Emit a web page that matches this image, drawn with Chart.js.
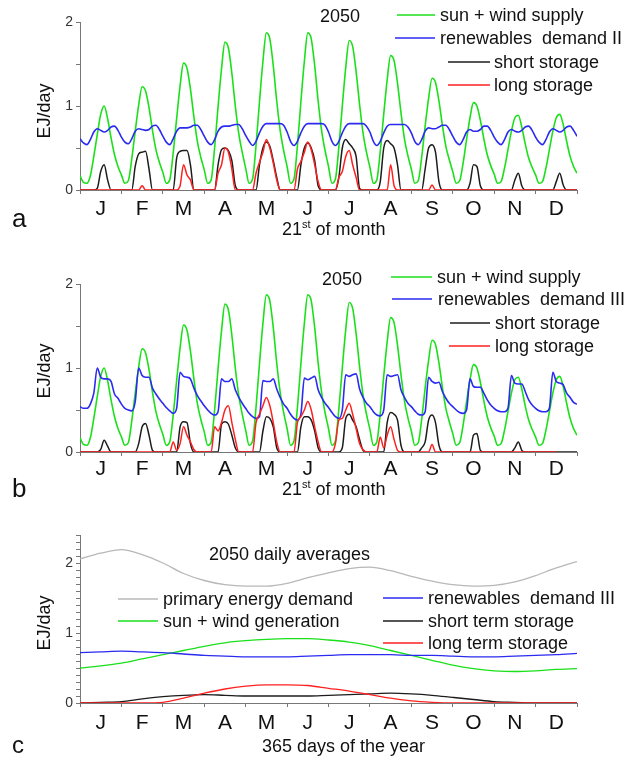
<!DOCTYPE html>
<html lang="en">
<head>
  <meta charset="UTF-8">
  <title>2050 sun + wind supply, demand and storage</title>
  <script src="https://cdn.jsdelivr.net/npm/chart.js"></script>
  <style>
    body { margin: 0; background: #fff; }
    #wrap { position: relative; width: 626px; height: 759px; }
    canvas { position: absolute; left: 0; }
  </style>
</head>
<body>
<div id="wrap">
  <canvas id="chartA" width="626" height="258" style="top:0"></canvas>
  <canvas id="chartB" width="626" height="258" style="top:258px"></canvas>
  <canvas id="chartC" width="626" height="243" style="top:516px"></canvas>
</div>

<script>
  const months = ['J', 'F', 'M', 'A', 'M', 'J', 'J', 'A', 'S', 'O', 'N', 'D'];

  // panels a and b: the 21st of each month, one value every 2 hours (0h ... 22h), last value closes December
  const supply = [
    0.17,0.09,0.08,0.17,0.40,0.66,0.90,1.00,0.85,0.62,0.42,0.28, // J
    0.18,0.08,0.11,0.37,0.70,1.01,1.23,1.18,0.98,0.71,0.48,0.33, // F
    0.21,0.08,0.12,0.44,0.85,1.24,1.51,1.45,1.20,0.87,0.58,0.39, // M
    0.24,0.08,0.12,0.50,0.99,1.44,1.76,1.69,1.39,1.00,0.67,0.45, // A
    0.26,0.08,0.13,0.53,1.05,1.53,1.87,1.80,1.48,1.06,0.71,0.47, // M
    0.28,0.08,0.13,0.53,1.05,1.53,1.87,1.80,1.48,1.06,0.71,0.47, // J
    0.28,0.08,0.13,0.51,1.00,1.46,1.78,1.71,1.41,1.02,0.68,0.45, // J
    0.27,0.08,0.12,0.46,0.90,1.31,1.60,1.54,1.27,0.92,0.61,0.41, // A
    0.25,0.08,0.11,0.39,0.76,1.09,1.33,1.28,1.06,0.77,0.52,0.36, // S
    0.22,0.08,0.11,0.32,0.60,0.86,1.04,1.00,0.83,0.61,0.42,0.29, // O
    0.19,0.08,0.10,0.26,0.48,0.70,0.86,0.89,0.75,0.55,0.38,0.27, // N
    0.18,0.08,0.10,0.26,0.48,0.70,0.86,0.90,0.78,0.58,0.40,0.28, // D
    0.20
  ];

  const demandII = [
    0.61,0.56,0.54,0.60,0.69,0.73,0.71,0.69,0.71,0.75,0.76,0.71,
    0.63,0.57,0.55,0.61,0.70,0.73,0.72,0.71,0.72,0.76,0.77,0.72,
    0.64,0.57,0.54,0.61,0.70,0.74,0.74,0.74,0.75,0.77,0.77,0.72,
    0.64,0.57,0.54,0.60,0.70,0.75,0.76,0.76,0.77,0.78,0.78,0.73,
    0.65,0.58,0.53,0.58,0.68,0.76,0.79,0.79,0.79,0.79,0.79,0.77,
    0.69,0.58,0.53,0.58,0.68,0.76,0.79,0.79,0.79,0.79,0.79,0.77,
    0.69,0.58,0.53,0.58,0.68,0.76,0.79,0.79,0.79,0.79,0.79,0.76,
    0.69,0.58,0.53,0.58,0.68,0.76,0.78,0.78,0.78,0.78,0.78,0.75,
    0.68,0.58,0.54,0.60,0.70,0.74,0.73,0.73,0.75,0.77,0.77,0.72,
    0.64,0.57,0.54,0.60,0.69,0.72,0.70,0.70,0.72,0.76,0.76,0.71,
    0.63,0.57,0.54,0.60,0.69,0.72,0.70,0.69,0.71,0.75,0.76,0.71,
    0.63,0.57,0.54,0.60,0.69,0.73,0.71,0.69,0.71,0.75,0.76,0.71,
    0.64
  ];

  const shortII = [
    0,0,0,0,0,0.02,0.22,0.30,0.12,0,0,0,
    0,0,0,0,0.28,0.43,0.45,0.46,0.25,0,0,0,
    0,0,0,0,0.38,0.46,0.47,0.47,0.30,0,0,0,
    0,0,0,0,0.30,0.48,0.50,0.47,0.35,0.05,0,0,
    0,0,0,0,0.30,0.50,0.57,0.52,0.35,0.15,0,0,
    0,0,0,0,0.30,0.50,0.56,0.50,0.35,0.05,0,0,
    0,0,0,0.15,0.50,0.60,0.55,0.50,0.40,0.02,0,0,
    0,0,0,0.10,0.50,0.59,0.55,0.50,0.30,0,0,0,
    0,0,0,0,0.25,0.50,0.54,0.45,0.10,0,0,0,
    0,0,0,0,0,0.08,0.30,0.28,0.05,0,0,0,
    0,0,0,0,0,0,0.12,0.20,0.05,0,0,0,
    0,0,0,0,0,0,0.10,0.20,0.06,0,0,0,
    0
  ];

  const longII = [
    0,0,0,0,0,0,0,0,0,0,0,0,
    0,0,0,0,0,0,0.05,0,0,0,0,0,
    0,0,0,0,0,0.05,0.30,0.18,0.12,0,0,0,
    0,0,0,0,0.20,0.30,0.50,0.45,0.25,0,0,0,
    0,0,0,0.20,0.33,0.45,0.60,0.50,0.32,0.12,0,0,
    0,0,0,0.25,0.34,0.45,0.57,0.48,0.30,0.10,0,0,
    0,0,0,0.15,0.22,0.40,0.47,0.30,0.15,0,0,0,
    0,0,0,0,0,0,0.30,0.05,0,0,0,0,
    0,0,0,0,0,0,0.06,0,0,0,0,0,
    0,0,0,0,0,0,0,0,0,0,0,0,
    0,0,0,0,0,0,0,0,0,0,0,0,
    0,0,0,0,0,0,0,0,0,0,0,0,
    0
  ];

  const demandIII = [
    0.54,0.52,0.52,0.57,0.70,1.00,0.89,0.87,0.87,0.84,0.69,0.64,
    0.57,0.52,0.50,0.49,0.60,1.00,0.91,0.89,0.89,0.76,0.69,0.63,
    0.58,0.53,0.49,0.46,0.52,0.95,0.90,0.89,0.87,0.76,0.67,0.61,
    0.55,0.50,0.46,0.44,0.48,0.87,0.84,0.84,0.87,0.74,0.65,0.58,
    0.52,0.46,0.42,0.40,0.42,0.85,0.84,0.84,0.87,0.75,0.65,0.57,
    0.52,0.45,0.40,0.38,0.45,0.88,0.86,0.88,0.90,0.74,0.65,0.58,
    0.53,0.47,0.42,0.40,0.50,0.92,0.90,0.92,0.93,0.75,0.65,0.58,
    0.54,0.48,0.44,0.43,0.50,0.92,0.90,0.91,0.92,0.74,0.65,0.58,
    0.54,0.49,0.45,0.44,0.48,0.89,0.84,0.82,0.83,0.72,0.64,0.58,
    0.54,0.50,0.47,0.46,0.50,0.87,0.78,0.77,0.77,0.70,0.62,0.56,
    0.52,0.49,0.48,0.48,0.52,0.91,0.82,0.81,0.81,0.72,0.62,0.56,
    0.52,0.49,0.48,0.48,0.52,0.95,0.84,0.82,0.80,0.70,0.65,0.59,
    0.57
  ];

  const shortIII = [
    0,0,0,0,0,0,0.03,0.14,0.07,0,0,0,
    0,0,0,0,0,0.10,0.30,0.34,0.20,0.02,0,0,
    0,0,0,0,0,0.30,0.36,0.35,0.10,0,0,0,
    0,0,0,0,0,0.33,0.36,0.33,0.20,0.05,0,0,
    0,0,0,0,0,0.25,0.42,0.40,0.30,0.05,0,0,
    0,0,0,0,0.30,0.42,0.42,0.38,0.25,0.05,0,0,
    0,0,0,0,0.05,0.40,0.45,0.38,0.30,0.15,0.02,0,
    0,0,0,0,0,0.35,0.47,0.45,0.38,0.08,0,0,
    0,0,0,0.05,0.12,0.38,0.44,0.35,0.08,0,0,0,
    0,0,0,0,0,0,0.20,0.22,0.02,0,0,0,
    0,0,0,0,0,0,0.05,0.12,0.02,0,0,0,
    0,0,0,0,0,0,0,0,0,0,0,0,
    0
  ];

  const longIII = [
    0,0,0,0,0,0,0,0,0,0,0,0,
    0,0,0,0,0,0,0,0,0,0,0,0,
    0,0,0,0.12,0.02,0.10,0.30,0.20,0.12,0.03,0,0,
    0,0,0,0.30,0.25,0.35,0.50,0.55,0.35,0.15,0,0,
    0,0,0,0.35,0.45,0.55,0.65,0.55,0.35,0.12,0,0,
    0,0,0,0.35,0.42,0.50,0.60,0.50,0.30,0.12,0,0,
    0,0,0.10,0.38,0.40,0.50,0.58,0.45,0.28,0.10,0.03,0,
    0,0,0,0.18,0.05,0.20,0.30,0.15,0.02,0,0,0,
    0,0,0,0,0,0,0.09,0,0,0,0,0,
    0,0,0,0,0,0,0,0,0,0,0,0,
    0,0,0,0,0,0,0,0,0,0,0,0,
    0,0,0,0,0,0,0,null,null,null,null,null,
    null
  ];

  // panel c: daily averages, one value every half month
  const primaryC = [2.06,2.14,2.19,2.12,2.00,1.85,1.75,1.69,1.67,1.67,1.71,1.79,1.86,1.92,1.94,1.89,1.81,1.74,1.69,1.67,1.68,1.73,1.82,1.93,2.02];
  const supplyC  = [0.50,0.53,0.57,0.63,0.69,0.75,0.81,0.86,0.89,0.91,0.92,0.92,0.90,0.87,0.82,0.75,0.68,0.61,0.54,0.49,0.46,0.45,0.46,0.48,0.49];
  const demandC  = [0.72,0.73,0.74,0.73,0.72,0.70,0.68,0.67,0.66,0.66,0.66,0.67,0.68,0.69,0.69,0.69,0.68,0.68,0.67,0.66,0.66,0.67,0.68,0.69,0.71];
  const shortC   = [0.00,0.01,0.02,0.06,0.09,0.11,0.12,0.11,0.10,0.10,0.10,0.10,0.11,0.12,0.13,0.14,0.13,0.11,0.08,0.05,0.02,0.01,0.00,0.00,0.00];
  const longC    = [0,0,0,0,0.01,0.07,0.14,0.20,0.24,0.26,0.26,0.25,0.21,0.17,0.12,0.07,0.03,0.01,0,0,0,0,0,0,0];

  const FONT = '"Liberation Sans", Arial, sans-serif';
  const GREEN = '#1ae01a', BLUE = '#2a2af0', BLACK = '#1c1c1c', RED = '#ff2020', GREY = '#b8b8b8';
  const AXIS = '#777';

  Chart.defaults.font.family = FONT;

  // legend keys, panel letters and axis titles drawn straight on the canvas
  const annotations = {
    id: 'annotations',
    afterDraw(chart, args, o) {
      const ctx = chart.ctx;
      ctx.save();
      ctx.fillStyle = '#111';
      ctx.textAlign = 'left';
      (o.keys || []).forEach(k => {
        ctx.strokeStyle = k.color;
        ctx.lineWidth = 1.5;
        ctx.beginPath();
        ctx.moveTo(k.x1, k.y);
        ctx.lineTo(k.x2, k.y);
        ctx.stroke();
        ctx.font = '18px ' + FONT;
        ctx.textBaseline = 'middle';
        ctx.fillText(k.label, k.tx, k.y + 1);
      });
      (o.texts || []).forEach(t => {
        ctx.font = t.size + 'px ' + FONT;
        ctx.textBaseline = t.baseline || 'middle';
        if (t.rotate) {
          ctx.save();
          ctx.translate(t.x, t.y);
          ctx.rotate(-Math.PI / 2);
          ctx.textAlign = 'center';
          ctx.fillText(t.text, 0, 0);
          ctx.restore();
        } else {
          ctx.fillText(t.text, t.x, t.y);
        }
      });
      if (o.title) {
        // x axis title, with a raised part ("21st")
        let x = o.title.x;
        ctx.textBaseline = 'alphabetic';
        o.title.parts.forEach(p => {
          ctx.font = p.size + 'px ' + FONT;
          ctx.fillText(p.text, x, o.title.y - (p.rise || 0));
          x += ctx.measureText(p.text).width;
        });
      }
      ctx.restore();
    }
  };

  const xy = arr => arr.map((v, i) => ({ x: i, y: v }));

  function line(values, color, width, order) {
    return {
      data: xy(values),
      xAxisID: 'xd',
      borderColor: color,
      borderWidth: width,
      pointRadius: 0,
      fill: false,
      cubicInterpolationMode: 'monotone',
      spanGaps: false,
      order: order
    };
  }

  function makePanel(id, datasets, cfg) {
    const n = datasets[0].data.length;
    return new Chart(document.getElementById(id), {
      type: 'line',
      data: { datasets: datasets },
      options: {
        responsive: false,
        animation: false,
        devicePixelRatio: 1,
        layout: { padding: { top: cfg.top, right: 49, left: 0, bottom: 0 } },
        plugins: {
          legend: { display: false },
          tooltip: { enabled: false },
          annotations: cfg.notes
        },
        scales: {
          xd: { type: 'linear', display: false, min: 0, max: n - 1 },
          x: {
            type: 'category',
            labels: months,
            position: 'bottom',
            offset: true,
            grid: { offset: true, drawOnChartArea: false, tickLength: 4, color: AXIS },
            border: { color: AXIS },
            ticks: { font: { size: 21 }, color: '#111', padding: cfg.labelPad, maxRotation: 0, autoSkip: false },
            afterFit: s => { s.height = cfg.axisH; }
          },
          y: {
            min: 0,
            max: cfg.ymax,
            grid: { drawOnChartArea: false, tickLength: 4, color: AXIS },
            border: { color: AXIS },
            ticks: {
              stepSize: cfg.step,
              autoSkip: false,
              font: { size: 14 },
              color: '#333',
              padding: 3,
              callback: v => Math.abs(v - Math.round(v)) < 1e-6 ? Math.round(v) : ''
            },
            afterFit: s => { s.width = 80; }
          }
        }
      },
      plugins: [annotations]
    });
  }

  makePanel('chartA', [
    line(longII, RED, 1.5, 0),
    line(shortII, BLACK, 1.5, 1),
    line(demandII, BLUE, 1.6, 2),
    line(supply, GREEN, 1.6, 3)
  ], {
    top: 22, axisH: 68, labelPad: 3, ymax: 2, step: 0.5,
    notes: {
      keys: [
        { label: 'sun + wind supply', color: GREEN, x1: 397, x2: 435, y: 15, tx: 440 },
        { label: 'renewables  demand II', color: BLUE, x1: 395, x2: 435, y: 38, tx: 440 },
        { label: 'short storage', color: BLACK, x1: 448, x2: 490, y: 62, tx: 494 },
        { label: 'long storage', color: RED, x1: 448, x2: 490, y: 85, tx: 494 }
      ],
      texts: [
        { text: '2050', x: 320, y: 17, size: 18 },
        { text: 'EJ/day', x: 45, y: 111, size: 18, rotate: true },
        { text: 'a', x: 12, y: 227, size: 26, baseline: 'alphabetic' }
      ],
      title: { x: 282, y: 235, parts: [{ text: '21', size: 18 }, { text: 'st', size: 11, rise: 7 }, { text: ' of month', size: 18 }] }
    }
  });

  makePanel('chartB', [
    line(longIII, RED, 1.5, 0),
    line(shortIII, BLACK, 1.5, 1),
    line(demandIII, BLUE, 1.6, 2),
    line(supply, GREEN, 1.6, 3)
  ], {
    top: 26, axisH: 64, labelPad: 1, ymax: 2, step: 0.5,
    notes: {
      keys: [
        { label: 'sun + wind supply', color: GREEN, x1: 391, x2: 432, y: 19, tx: 437 },
        { label: 'renewables  demand III', color: BLUE, x1: 392, x2: 432, y: 41, tx: 438 },
        { label: 'short storage', color: BLACK, x1: 450, x2: 490, y: 65, tx: 495 },
        { label: 'long storage', color: RED, x1: 449, x2: 490, y: 88, tx: 495 }
      ],
      texts: [
        { text: '2050', x: 322, y: 22, size: 18 },
        { text: 'EJ/day', x: 45, y: 113, size: 18, rotate: true },
        { text: 'b', x: 12, y: 239, size: 26, baseline: 'alphabetic' }
      ],
      title: { x: 282, y: 237, parts: [{ text: '21', size: 18 }, { text: 'st', size: 11, rise: 7 }, { text: ' of month', size: 18 }] }
    }
  });

  makePanel('chartC', [
    line(longC, RED, 1.3, 0),
    line(shortC, BLACK, 1.3, 1),
    line(demandC, BLUE, 1.3, 2),
    line(supplyC, GREEN, 1.3, 3),
    line(primaryC, GREY, 1.3, 4)
  ], {
    top: 19, axisH: 56, labelPad: 4, ymax: 2.4, step: 0.1,
    notes: {
      keys: [
        { label: 'primary energy demand', color: GREY, x1: 118, x2: 158, y: 83, tx: 163 },
        { label: 'sun + wind generation', color: GREEN, x1: 118, x2: 158, y: 105, tx: 163 },
        { label: 'renewables  demand III', color: BLUE, x1: 383, x2: 423, y: 82, tx: 428 },
        { label: 'short term storage', color: BLACK, x1: 383, x2: 423, y: 105, tx: 428 },
        { label: 'long term storage', color: RED, x1: 383, x2: 423, y: 127, tx: 428 }
      ],
      texts: [
        { text: '2050 daily averages', x: 209, y: 39, size: 18 },
        { text: 'EJ/day', x: 45, y: 107, size: 18, rotate: true },
        { text: 'c', x: 12, y: 237, size: 24, baseline: 'alphabetic' }
      ],
      title: { x: 262, y: 236, parts: [{ text: '365 days of the year', size: 18 }] }
    }
  });
</script>
</body>
</html>
